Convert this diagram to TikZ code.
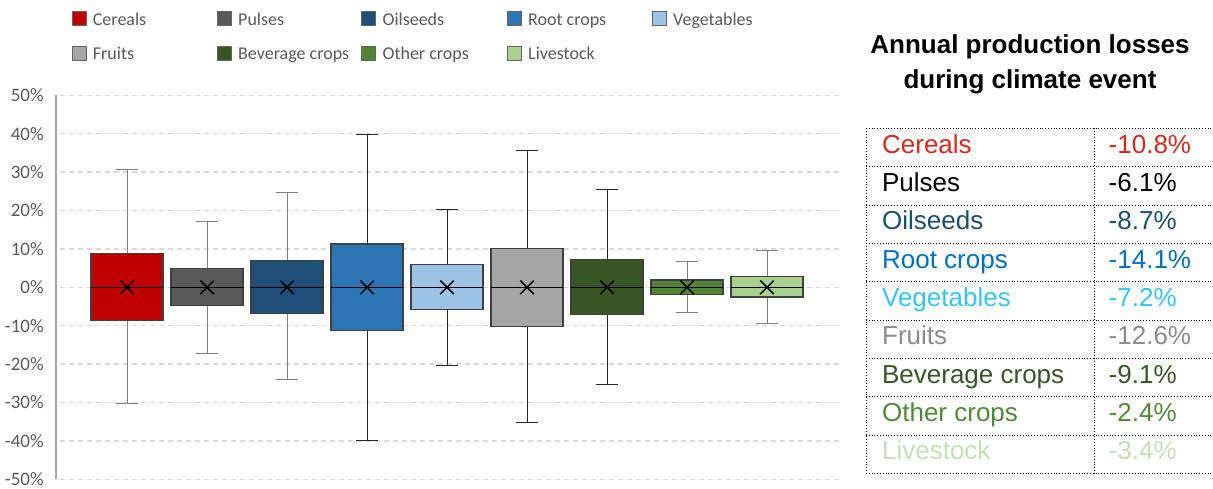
\documentclass[tikz,border=0pt]{standalone}
\usepackage{fontspec}
\setmainfont{Carlito}
\newfontfamily\arialfont{Liberation Sans}
\usetikzlibrary{positioning,shapes.misc}
\definecolor{cereals}{HTML}{C00000}
\definecolor{pulses}{HTML}{595959}
\definecolor{oilseeds}{HTML}{1F4E79}
\definecolor{rootcrops}{HTML}{2E75B6}
\definecolor{vegetables}{HTML}{9DC3E6}
\definecolor{fruits}{HTML}{A5A5A5}
\definecolor{beverage}{HTML}{375623}
\definecolor{othercrops}{HTML}{548235}
\definecolor{livestock}{HTML}{A9D18E}
\definecolor{axisgrey}{HTML}{595959}
\definecolor{gridgrey}{HTML}{D9D9D9}
\definecolor{axisline}{HTML}{A6A6A6}
\definecolor{whisklight}{HTML}{808080}
\definecolor{whiskdark}{HTML}{262626}
\definecolor{boxedge}{HTML}{404040}
% table text colours
\definecolor{tcereals}{HTML}{D42A1E}
\definecolor{tpulses}{HTML}{000000}
\definecolor{toilseeds}{HTML}{1A4F6E}
\definecolor{trootcrops}{HTML}{0070C0}
\definecolor{tvegetables}{HTML}{33C4FA}
\definecolor{tfruits}{HTML}{8C8C8C}
\definecolor{tbeverage}{HTML}{375623}
\definecolor{tothercrops}{HTML}{4F8A36}
\definecolor{tlivestock}{HTML}{C5E0B4}

\begin{document}
\begin{tikzpicture}[x=0.5pt, y=-0.5pt,
    legendbox/.style={rectangle, draw=black!60, line width=0.5pt,
    minimum size=7pt, inner sep=0pt},
    legendtext/.style={font=\fontsize{9}{11}\selectfont, text=axisgrey,
    inner sep=0pt, text height=8pt, text depth=1.5pt},
    ticklabel/.style={font=\fontsize{9.5}{11}\selectfont, text=axisgrey,
    anchor=east, inner sep=0pt},
    gridline/.style={draw=gridgrey, line width=0.65pt,
    dash pattern=on 2.5pt off 2pt},
    meanmark/.style={cross out, draw=black, line width=0.75pt,
    minimum size=6pt, inner sep=0pt},
    cell/.style={font=\arialfont\fontsize{13}{15}\selectfont,
    anchor=base west, inner sep=0pt},
    tablerule/.style={densely dotted, line width=0.4pt},
  ]
  \useasboundingbox (0,0) rectangle (1213,488);

  % Legend
  \foreach \lx/\ly/\lc/\lt [count=\i] in {79/18.5/cereals/Cereals,
      224.3/18.5/pulses/Pulses, 368.7/18.5/oilseeds/Oilseeds,
      514.3/18.5/rootcrops/Root crops, 659.3/18.5/vegetables/Vegetables,
      79/53/fruits/Fruits, 224.3/53/beverage/Beverage crops,
      368.7/53/othercrops/Other crops, 514.3/53/livestock/Livestock} {
    \node[legendbox, fill=\lc] (lg\i) at (\lx,\ly) {};
    \node[legendtext, right=3pt of lg\i] (lt\i) {\lt};
  }

  % Chart: x in pixels, y in percent
  \begin{scope}[yshift=-143.65pt, y=1.92pt]
    \foreach \p in {-50,-40,...,50} {
      \draw[gridline] (60,\p) -- (842,\p);
      \node[ticklabel] (tick\p) at (44,\p) {\p\%};
    }
    \draw[axisline, line width=0.75pt] (56,-50) -- (56,50);

    % boxes: centre / q1 / q3 / min / max / fill / whisker colour
    \foreach \cx/\qa/\qb/\wa/\wb/\fc/\wc in {
        127/-8.7/8.75/-30.2/30.7/cereals/whisklight,
        207/-4.8/4.85/-17.2/17.2/pulses/whisklight,
        287/-6.9/7.0/-24.1/24.6/oilseeds/whisklight,
        367/-11.3/11.3/-39.8/39.9/rootcrops/whiskdark,
        447/-5.7/5.9/-20.3/20.3/vegetables/whiskdark,
        527/-10.2/10.2/-35.3/35.7/fruits/whiskdark,
        607/-7.0/7.3/-25.3/25.5/beverage/whiskdark,
        687/-1.9/1.9/-6.6/6.8/othercrops/whisklight,
        767/-2.5/2.9/-9.5/9.7/livestock/whisklight} {
      \draw[\wc, line width=0.5pt] (\cx,\wa) -- (\cx,\qa)
        (\cx,\qb) -- (\cx,\wb);
      \draw[\wc, line width=0.5pt] (\cx-11,\wa) -- (\cx+11,\wa)
        (\cx-11,\wb) -- (\cx+11,\wb);
      \draw[fill=\fc, draw=boxedge, line width=0.6pt]
        (\cx-36,\qa) rectangle (\cx+36,\qb);
      \draw[black, line width=0.5pt] (\cx-36,0) -- (\cx+36,0);
      \node[meanmark] (mean\cx) at (\cx,0) {};
    }
  \end{scope}

  % Title
  \node[font=\arialfont\bfseries\fontsize{13}{15}\selectfont, anchor=base]
    (title1) at (1030,53.3) {Annual production losses};
  \node[font=\arialfont\bfseries\fontsize{13}{15}\selectfont, anchor=base]
    (title2) at (1030,88.3) {during climate event};

  % Table
  \foreach \i in {0,...,9}
    \draw[tablerule] (866,128.3+38.33*\i) -- (1213,128.3+38.33*\i);
  \draw[tablerule] (866,128.3) -- (866,473.3);
  \draw[tablerule] (1094.3,128.3) -- (1094.3,473.3);
  \foreach \tn/\tv/\tc [count=\i from 0] in {Cereals/-10.8/tcereals,
      Pulses/-6.1/tpulses, Oilseeds/-8.7/toilseeds,
      Root crops/-14.1/trootcrops, Vegetables/-7.2/tvegetables,
      Fruits/-12.6/tfruits, Beverage crops/-9.1/tbeverage,
      Other crops/-2.4/tothercrops, Livestock/-3.4/tlivestock} {
    \node[cell, text=\tc] (name\i) at (881.7,153.3+38.33*\i) {\tn};
    \node[cell, text=\tc] (val\i) at (1108.3,153.3+38.33*\i) {\tv\%};
  }
\end{tikzpicture}
\end{document}
